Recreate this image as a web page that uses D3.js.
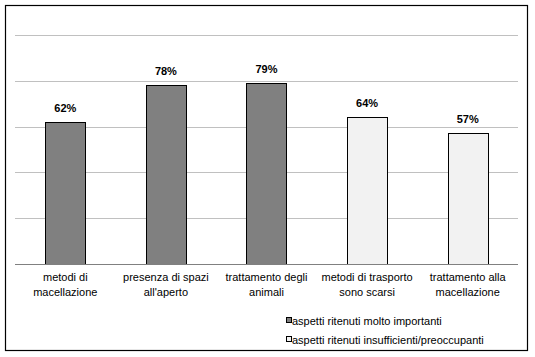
<!DOCTYPE html>
<html><head><meta charset="utf-8">
<script src="https://cdn.jsdelivr.net/npm/d3@7"></script>
<style>body{margin:0;background:#fff}svg{display:block}text{font-family:"Liberation Sans",Arial,sans-serif}</style>
</head><body>
<script>
const categories = [["metodi di","macellazione"],["presenza di spazi","all'aperto"],["trattamento degli","animali"],["metodi di trasporto","sono scarsi"],["trattamento alla","macellazione"]];
const values = [62,78,79,64,57];
const seriesOf = [0,0,0,1,1];
const seriesNames = ["aspetti ritenuti molto importanti","aspetti ritenuti insufficienti/preoccupanti"];
const seriesColors = ["#808080","#f2f2f2"];
const yTicks = [0,20,40,60,80,100];

const W=535,H=357;
const svg=d3.select("body").append("svg").attr("width",W).attr("height",H);
svg.append("rect").attr("x",5.5).attr("y",5.5).attr("width",522).attr("height",345).attr("fill","#fff").attr("stroke","#000").attr("stroke-width",1.2);

const x=d3.scaleBand().domain(d3.range(values.length)).range([15,518]).paddingInner(0.6).paddingOuter(0.3);
const y=d3.scaleLinear().domain([0,100]).range([264,35]);

svg.append("g").selectAll("line").data(yTicks.filter(t=>t>0)).join("line")
  .attr("x1",15).attr("x2",518).attr("y1",d=>Math.round(y(d))+0.5).attr("y2",d=>Math.round(y(d))+0.5)
  .attr("stroke","#c0c0c0").attr("stroke-width",1);

svg.append("g").selectAll("rect").data(values).join("rect")
  .attr("x",(d,i)=>Math.round(x(i))+0.5).attr("y",d=>Math.round(y(d))+0.5)
  .attr("width",Math.round(x.bandwidth())).attr("height",d=>Math.round(y(0))-Math.round(y(d)))
  .attr("fill",(d,i)=>seriesColors[seriesOf[i]]).attr("stroke","#000").attr("stroke-width",1);

svg.append("line").attr("x1",15).attr("x2",518).attr("y1",Math.round(y(0))+0.5).attr("y2",Math.round(y(0))+0.5).attr("stroke","#808080").attr("stroke-width",1.2);

svg.append("g").selectAll("text").data(values).join("text")
  .attr("x",(d,i)=>x(i)+x.bandwidth()/2).attr("y",d=>y(d)-10)
  .attr("text-anchor","middle").attr("font-size",11).attr("font-weight","bold").attr("fill","#000")
  .text(d=>d+"%");

const cl=svg.append("g").selectAll("text").data(categories).join("text")
  .attr("text-anchor","middle").attr("font-size",11).attr("fill","#000");
cl.each(function(d,i){
  const t=d3.select(this);
  d.forEach((s,j)=>t.append("tspan").attr("x",x(i)+x.bandwidth()/2).attr("y",281+j*14.7).text(s));
});

const lg=svg.append("g").selectAll("g").data(seriesNames).join("g")
  .attr("transform",(d,i)=>`translate(286,${321+i*19})`);
lg.append("rect").attr("x",0.5).attr("y",-3.5).attr("width",5).attr("height",5)
  .attr("fill",(d,i)=>seriesColors[i]).attr("stroke","#000").attr("stroke-width",1);
lg.append("text").attr("x",6).attr("y",4).attr("font-size",11).attr("fill","#000").text(d=>d);
</script>
</body></html>
